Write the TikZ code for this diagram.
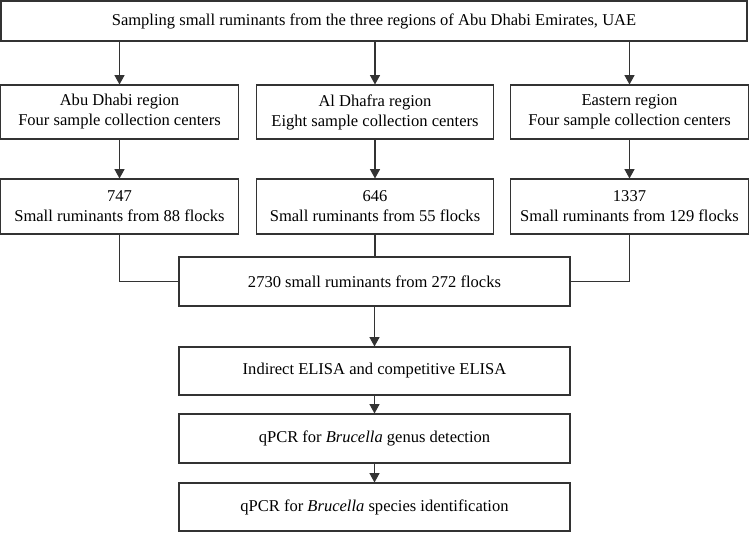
\documentclass[tikz,border=0pt]{standalone}
\usepackage{fontspec}
\setmainfont{Liberation Serif}
\definecolor{flowline}{HTML}{333333}
\usetikzlibrary{arrows.meta}

\begin{document}
\begin{tikzpicture}[x=0.75pt,y=-0.75pt,
    box/.style={draw=flowline,line width=0.8pt,inner sep=0pt,align=center,
      font=\fontsize{12.4}{15}\selectfont},
    flow/.style={draw=flowline,line width=0.8pt,-{Triangle[width=7.5pt,length=7pt]}},
    merge/.style={draw=flowline,line width=0.8pt}]
  \useasboundingbox (0,0) rectangle (749,533);
  % sampling
  \node[box,minimum width=559.5pt,minimum height=30pt] (top) at (374,21)
    {Sampling small ruminants from the three regions of Abu Dhabi Emirates, UAE};
  % regions
  \node[box,minimum width=178pt,minimum height=40.5pt] (regA) at (119.5,112)
    {Abu Dhabi region\\Four sample collection centers};
  \node[box,minimum width=178pt,minimum height=40.5pt] (regB) at (375,112)
    {Al Dhafra region\\Eight sample collection centers};
  \node[box,minimum width=178pt,minimum height=40.5pt] (regC) at (629.5,112)
    {Eastern region\\Four sample collection centers};
  % counts
  \node[box,minimum width=178pt,minimum height=41.25pt] (numA) at (119.5,206.5)
    {747\\Small ruminants from 88 flocks};
  \node[box,minimum width=178pt,minimum height=41.25pt] (numB) at (375,206.5)
    {646\\Small ruminants from 55 flocks};
  \node[box,minimum width=178pt,minimum height=41.25pt] (numC) at (629.5,206.5)
    {1337\\Small ruminants from 129 flocks};
  % pooled and tests
  \node[box,minimum width=293.25pt,minimum height=36.75pt] (total) at (374.5,281.5)
    {2730 small ruminants from 272 flocks};
  \node[box,minimum width=293.25pt,minimum height=36pt] (elisa) at (374.5,371)
    {Indirect ELISA and competitive ELISA};
  \node[box,minimum width=293.25pt,minimum height=36.75pt] (genus) at (374.5,438.5)
    {qPCR for \textit{Brucella} genus detection};
  \node[box,minimum width=293.25pt,minimum height=36pt] (species) at (374.5,507)
    {qPCR for \textit{Brucella} species identification};

  \foreach \reg in {regA,regB,regC}{
    \draw[flow] (top.south -| \reg) -- (\reg.north);
  }
  \draw[flow] (regA) -- (numA);
  \draw[flow] (regB) -- (numB);
  \draw[flow] (regC) -- (numC);
  \draw[merge] (numA.south) |- (total.west);
  \draw[merge] (numC.south) |- (total.east);
  \draw[merge] (numB.south) -- (numB.south |- total.north);
  \draw[flow] (total) -- (elisa);
  \draw[flow] (elisa) -- (genus);
  \draw[flow] (genus) -- (species);
\end{tikzpicture}
\end{document}
